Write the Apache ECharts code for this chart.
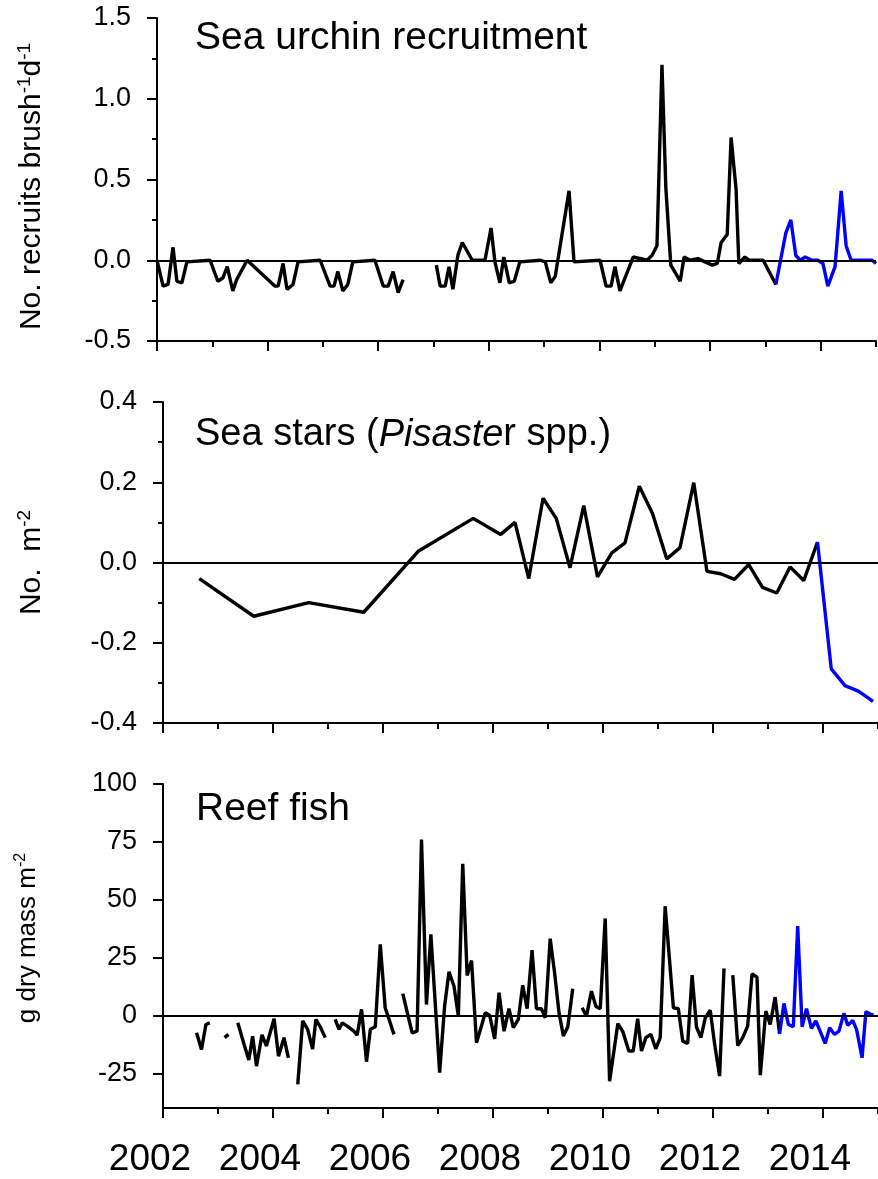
<!DOCTYPE html>
<html>
<head>
<meta charset="utf-8">
<script src="https://cdn.jsdelivr.net/npm/echarts@6/dist/echarts.min.js"></script>
<style>
    html, body { margin: 0; padding: 0; background: #fff; }
    #chart { width: 878px; height: 1179px; }
</style>
</head>
<body>
<div id="chart"></div>
<script>
// [year, value], null = gap in the record
const urchinBlack = [
    [2002.00, 0.0], [2002.11, -0.16], [2002.20, -0.15], [2002.29, 0.08], [2002.36, -0.13], [2002.45, -0.14],
    [2002.54, -0.01], [2002.96, 0.0], [2003.10, -0.13], [2003.19, -0.11], [2003.27, -0.04], [2003.37, -0.19],
    [2003.44, -0.12], [2003.63, 0.0], [2004.13, -0.16], [2004.19, -0.16], [2004.28, -0.02], [2004.35, -0.18],
    [2004.46, -0.15], [2004.55, -0.01], [2004.95, 0.0], [2005.13, -0.16], [2005.20, -0.16], [2005.27, -0.07],
    [2005.36, -0.19], [2005.45, -0.15], [2005.54, -0.01], [2005.94, 0.0], [2006.09, -0.16], [2006.18, -0.16],
    [2006.27, -0.07], [2006.36, -0.20], [2006.45, -0.12], [2006.75, null],
    [2007.05, -0.03], [2007.12, -0.16], [2007.21, -0.16], [2007.28, -0.04], [2007.35, -0.18], [2007.44, 0.03],
    [2007.52, 0.11], [2007.70, 0.0], [2007.93, 0.0], [2008.04, 0.20], [2008.11, -0.01], [2008.20, -0.14],
    [2008.27, 0.02], [2008.37, -0.14], [2008.46, -0.13], [2008.56, -0.01], [2008.93, 0.0], [2009.02, -0.01],
    [2009.12, -0.14], [2009.20, -0.10], [2009.45, 0.43], [2009.54, -0.01], [2010.01, 0.0], [2010.12, -0.16],
    [2010.21, -0.16], [2010.28, -0.04], [2010.37, -0.19], [2010.46, -0.11], [2010.61, 0.02], [2010.86, 0.0],
    [2010.95, 0.03], [2011.04, 0.09], [2011.13, 1.21], [2011.20, 0.45], [2011.29, -0.03], [2011.36, -0.07],
    [2011.46, -0.13], [2011.53, 0.02], [2011.64, 0.0], [2011.78, 0.01], [2011.91, -0.01], [2012.04, -0.03],
    [2012.13, -0.02], [2012.20, 0.11], [2012.31, 0.16], [2012.38, 0.76], [2012.47, 0.44], [2012.52, -0.02],
    [2012.63, 0.02], [2012.71, 0.0], [2012.96, 0.0], [2013.19, -0.15],
];
const urchinBlue = [
    [2013.19, -0.15], [2013.37, 0.17], [2013.46, 0.25], [2013.55, 0.03], [2013.63, 0.0], [2013.72, 0.02],
    [2013.84, 0.0], [2013.95, 0.0], [2014.04, -0.02], [2014.13, -0.16], [2014.26, -0.04], [2014.37, 0.43],
    [2014.46, 0.09], [2014.55, 0.0], [2014.93, 0.0], [2015.00, -0.02],
];

const starBlack = [
    [2002.66, -0.04], [2003.65, -0.134], [2004.65, -0.10], [2005.65, -0.124], [2006.64, 0.028], [2007.64, 0.11],
    [2008.14, 0.07], [2008.40, 0.10], [2008.65, -0.04], [2008.91, 0.16], [2009.15, 0.11], [2009.40, -0.013],
    [2009.65, 0.142], [2009.90, -0.036], [2010.16, 0.024], [2010.40, 0.049], [2010.66, 0.19], [2010.90, 0.122],
    [2011.16, 0.009], [2011.40, 0.037], [2011.65, 0.199], [2011.89, -0.022], [2012.14, -0.028], [2012.39, -0.042],
    [2012.65, -0.005], [2012.90, -0.062], [2013.16, -0.076], [2013.40, -0.011], [2013.65, -0.045], [2013.90, 0.051],
];
const starBlue = [
    [2013.90, 0.051], [2014.15, -0.265], [2014.40, -0.307], [2014.65, -0.321], [2014.91, -0.346],
];

const fishBlack = [
    [2002.61, -7.5], [2002.70, -14.7], [2002.78, -3.9], [2002.85, -3.2], [2003.00, null],
    [2003.12, -9.6], [2003.19, -8.2], [2003.28, null],
    [2003.36, -3.2], [2003.48, -13], [2003.56, -19.3], [2003.63, -9], [2003.70, -21.9], [2003.80, -8.4],
    [2003.88, -13.2], [2004.02, -1.4], [2004.10, -17.6], [2004.20, -9.6], [2004.28, -18.3], [2004.37, null],
    [2004.45, -29.8], [2004.54, -2.4], [2004.63, -6], [2004.72, -14.5], [2004.78, -1.7], [2004.86, -5],
    [2004.95, -9.6], [2005.04, null],
    [2005.13, -1.7], [2005.20, -6], [2005.26, -3.2], [2005.35, -4.6], [2005.47, -6.8], [2005.53, -8.5],
    [2005.61, 2.6], [2005.70, -20], [2005.77, -6], [2005.86, -4.9], [2005.95, 30.7], [2006.04, 3.3],
    [2006.20, -8.2], [2006.28, null],
    [2006.36, 9.4], [2006.45, 0.4], [2006.53, -7.5], [2006.62, -6.8], [2006.70, 76], [2006.79, 4.7],
    [2006.87, 35], [2007.03, -24.7], [2007.12, 4], [2007.20, 18.9], [2007.29, 12.7], [2007.37, -0.3],
    [2007.45, 65.5], [2007.53, 17.3], [2007.61, 23.7], [2007.70, -11.8], [2007.79, -4.6], [2007.86, 1.2],
    [2007.94, 0], [2008.03, -10.1], [2008.11, 9.8], [2008.20, -6.8], [2008.29, 2.9], [2008.37, -5.3],
    [2008.46, -1.7], [2008.54, 13.1], [2008.62, 2.9], [2008.71, 28.2], [2008.79, 2.9], [2008.88, 2.9],
    [2008.95, -1], [2009.04, 33.2], [2009.12, 18.4], [2009.20, 1.2], [2009.28, -8.9], [2009.36, -4.9],
    [2009.45, 11.5], [2009.54, null],
    [2009.62, 3.3], [2009.70, -0.3], [2009.79, 10.5], [2009.87, 4], [2009.95, 2.9], [2010.04, 41.9],
    [2010.12, -28.4], [2010.27, -3.5], [2010.36, -7], [2010.47, -15.4], [2010.55, -15.4], [2010.63, -1.4],
    [2010.70, -15.4], [2010.78, -9.6], [2010.87, -8.2], [2010.96, -14.4], [2011.04, -9.6], [2011.13, 47.2],
    [2011.28, 3.3], [2011.37, 2.9], [2011.45, -11.1], [2011.54, -12.1], [2011.62, 17.4], [2011.70, -5],
    [2011.78, -9.6], [2011.86, -1], [2011.95, 2.3], [2012.03, -12.5], [2012.12, -26.2], [2012.20, 20.3],
    [2012.28, null],
    [2012.36, 17.4], [2012.45, -13], [2012.54, -9.6], [2012.63, -4.6], [2012.71, 18], [2012.80, 16.5],
    [2012.86, -25.8], [2012.96, 1.9], [2013.04, -3.9], [2013.13, 7.9], [2013.21, -7.9],
];
const fishBlue = [
    [2013.21, -7.9], [2013.29, 5.2], [2013.37, -3.9], [2013.46, -4.9], [2013.54, 38.6], [2013.62, -4.9],
    [2013.70, 2.9], [2013.79, -5.6], [2013.87, -2.4], [2013.96, -7.5], [2014.04, -12.1], [2014.12, -5.3],
    [2014.21, -8.2], [2014.29, -6.8], [2014.38, 0.9], [2014.45, -4.3], [2014.54, -2.2], [2014.61, -6],
    [2014.71, -18.3], [2014.78, 1.6], [2014.87, 0.4], [2014.92, 0.2],
];

const majorYears = [2002, 2004, 2006, 2008, 2010, 2012, 2014];
const minorYears = [2003, 2005, 2007, 2009, 2011, 2013, 2015];
const fishTicks = [-25, 0, 25, 50, 75, 100];

const FONT = 'Arial, "Liberation Sans", Helvetica, sans-serif';
const BLACK = '#000';
const BLUE = '#0000ff';

const grids = [
    { left: 157, top: 18, width: 719, height: 323 },
    { left: 163, top: 402, width: 719, height: 321 },
    { left: 163, top: 784, width: 719, height: 324 },
];

function pts(arr) {
    return arr.map(p => [p[0], p[1] === null ? '-' : p[1]]);
}

function xMain(gi, withLabels) {
    return {
        type: 'value', gridIndex: gi, position: 'bottom', min: 2002, max: 2015,
        axisLine: { show: true, onZero: false, lineStyle: { color: BLACK, width: 2 } },
        axisTick: { show: true, customValues: majorYears, length: 10, lineStyle: { color: BLACK, width: 2 } },
        axisLabel: {
            show: withLabels, customValues: majorYears, color: BLACK, fontFamily: FONT, fontSize: 37,
            margin: 33, padding: [0, 26, 0, 0], formatter: v => String(v),
        },
        splitLine: { show: false },
    };
}

function xMinor(gi) {
    return {
        type: 'value', gridIndex: gi, position: 'bottom', min: 2002, max: 2015,
        axisLine: { show: false, onZero: false },
        axisTick: { show: true, customValues: minorYears, length: 6, lineStyle: { color: BLACK, width: 2 } },
        axisLabel: { show: false },
        splitLine: { show: false },
    };
}

function yBase(gi, extra) {
    return Object.assign({
        type: 'value', gridIndex: gi,
        axisLine: { show: true, onZero: false, lineStyle: { color: BLACK, width: 2 } },
        axisTick: { show: true, length: 10, lineStyle: { color: BLACK, width: 2 } },
        splitLine: { show: false },
        nameLocation: 'middle', nameRotate: 90,
    }, extra);
}

const labelStyle = { color: BLACK, fontFamily: FONT, fontSize: 27, margin: 26 };

function nameRich(size) {
    return {
        a: { fontFamily: FONT, fontSize: size, color: BLACK, lineHeight: size + 4 },
        s: { fontFamily: FONT, fontSize: Math.round(size * 0.62), color: BLACK, verticalAlign: 'top', lineHeight: size + 4 },
    };
}

function lineSeries(data, xi, yi, color, withZero) {
    const s = {
        type: 'line', xAxisIndex: xi, yAxisIndex: yi, data: pts(data),
        symbol: 'none', showSymbol: false, connectNulls: false,
        lineStyle: { color: color, width: 3.4 }, itemStyle: { color: color },
        z: 3, animation: false,
    };
    if (withZero) {
        s.markLine = {
            silent: true, symbol: ['none', 'none'], animation: false,
            label: { show: false },
            lineStyle: { color: BLACK, width: 2, type: 'solid' },
            data: [{ yAxis: 0 }],
        };
    }
    return s;
}

const titleStyle = { fontFamily: FONT, fontWeight: 'normal', color: BLACK };

const option = {
    backgroundColor: '#fff',
    animation: false,
    title: [
        { text: 'Sea urchin recruitment', left: 195, top: 19, padding: 0,
          textStyle: Object.assign({ fontSize: 39 }, titleStyle) },
        { text: '{n|Sea stars (}{i|Pisaste}{n|r spp.)}', left: 195, top: 416, padding: 0,
          textStyle: Object.assign({
              fontSize: 38,
              rich: {
                  n: { fontFamily: FONT, fontSize: 38, color: BLACK },
                  i: { fontFamily: FONT, fontSize: 38, color: BLACK, fontStyle: 'italic' },
              },
          }, titleStyle) },
        { text: 'Reef fish', left: 196, top: 790, padding: 0,
          textStyle: Object.assign({ fontSize: 39 }, titleStyle) },
    ],
    grid: grids,
    xAxis: [xMain(0, false), xMinor(0), xMain(1, false), xMinor(1), xMain(2, true), xMinor(2)],
    yAxis: [
        yBase(0, {
            min: -0.5, max: 1.5, interval: 0.5,
            minorTick: { show: true, splitNumber: 2, length: 5, lineStyle: { color: BLACK, width: 2 } },
            minorSplitLine: { show: false },
            axisLabel: Object.assign({ formatter: v => v.toFixed(1) }, labelStyle),
            name: '{a|No. recruits brush}{s|-1}{a|d}{s|-1}', nameGap: 108,
            nameTextStyle: { rich: nameRich(30), padding: [0, 14, 0, 0] },
        }),
        yBase(1, {
            min: -0.4, max: 0.4, interval: 0.2,
            minorTick: { show: true, splitNumber: 2, length: 5, lineStyle: { color: BLACK, width: 2 } },
            minorSplitLine: { show: false },
            axisLabel: Object.assign({ formatter: v => v.toFixed(1) }, labelStyle),
            name: '{a|No.  m}{s|-2}', nameGap: 114,
            nameTextStyle: { rich: nameRich(30) },
        }),
        yBase(2, {
            min: -40, max: 100,
            axisTick: { show: true, customValues: fishTicks, length: 10, lineStyle: { color: BLACK, width: 2 } },
            axisLabel: Object.assign({ customValues: fishTicks, formatter: v => String(v) }, labelStyle),
            name: '{a|g dry mass m}{s|-2}', nameGap: 120,
            nameTextStyle: { rich: nameRich(26), padding: [0, 0, 0, 16] },
        }),
    ],
    series: [
        lineSeries(urchinBlack, 0, 0, BLACK, true),
        lineSeries(urchinBlue, 0, 0, BLUE, false),
        lineSeries(starBlack, 2, 1, BLACK, true),
        lineSeries(starBlue, 2, 1, BLUE, false),
        lineSeries(fishBlack, 4, 2, BLACK, true),
        lineSeries(fishBlue, 4, 2, BLUE, false),
    ],
};

const myChart = echarts.init(document.getElementById('chart'), null, { renderer: 'canvas' });
myChart.setOption(option);
</script>
</body>
</html>
